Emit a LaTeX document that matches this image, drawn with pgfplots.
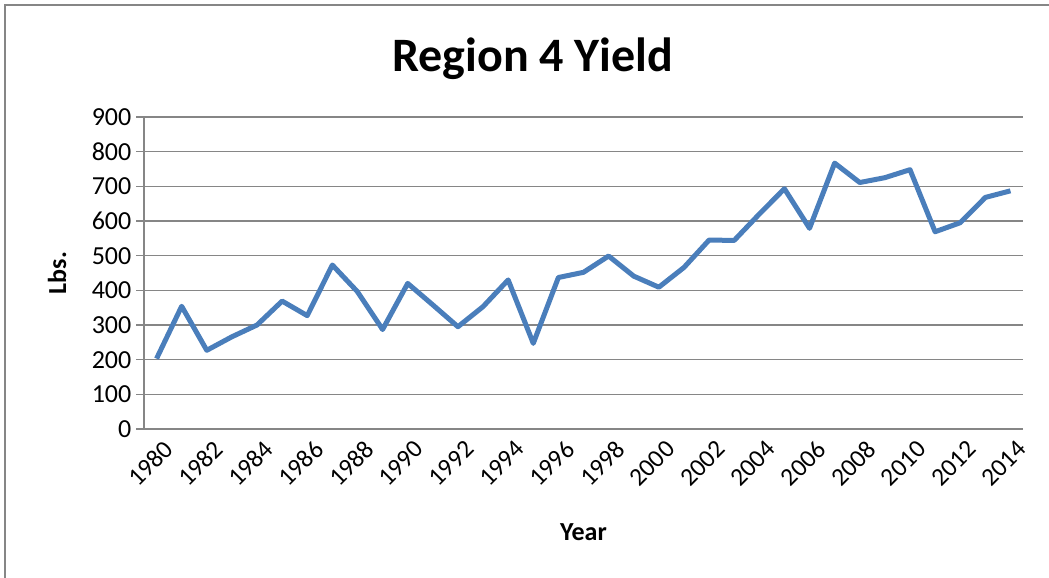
\documentclass[border=0pt]{standalone}
\usepackage{pgfplots}
\pgfplotsset{compat=1.18}
\usepackage{fontspec}
\setmainfont{Carlito}
\definecolor{linecol}{RGB}{74,126,187}
\definecolor{gridcol}{RGB}{134,134,134}
\begin{document}
\begin{tikzpicture}[x=1pt,y=1pt]
\useasboundingbox (0,0) rectangle (786.75,433.5);
\draw[gridcol, line width=1.1pt] (3.75,-5) -- (3.75,429.75) -- (800,429.75);
\begin{axis}[
  at={(108pt,111.75pt)}, anchor=south west,
  scale only axis, width=659.25pt, height=234pt,
  xmin=1979.5, xmax=2014.5, ymin=0, ymax=900,
  xtick={1980,1982,...,2014},
  ytick={0,100,...,900},
  axis x line=bottom, axis y line=left,
  axis line style={-, gridcol, line width=1.1pt},
  ymajorgrids, grid style={gridcol, line width=1.1pt},
  x tick style={draw=none},
  y tick style={gridcol, line width=1.1pt},
  tick align=outside, major tick length=6pt,
  x tick label style={rotate=45, anchor=north east, inner sep=1pt, xshift=3pt, yshift=-3pt, font=\fontsize{19}{20}\selectfont},
  y tick label style={font=\fontsize{19.5}{20}\selectfont},
  /pgf/number format/assume math mode=true,
  /pgf/number format/1000 sep={},
  xlabel={\textbf{Year}}, ylabel={\textbf{Lbs.}},
  label style={font=\fontsize{19.5}{20}\selectfont\bfseries},
  xlabel style={at={(axis description cs:0.5,0)}, anchor=center, yshift=-77pt},
  ylabel style={at={(axis description cs:-0.099,0.5)}, anchor=center, rotate=0},
  title={\textbf{Region 4 Yield}},
  title style={font=\fontsize{36}{37}\selectfont\bfseries, at={(axis description cs:0.442,1)}, anchor=center, yshift=38pt},
  clip=false,
]
\addplot[linecol, line width=3.75pt, line join=round] coordinates {
(1980,203) (1981,354) (1982,227) (1983,266) (1984,300) (1985,369) (1986,327)
(1987,473) (1988,396) (1989,287) (1990,420) (1991,358) (1992,295) (1993,353)
(1994,430) (1995,247) (1996,437) (1997,452) (1998,499) (1999,441) (2000,409)
(2001,466) (2002,545) (2003,544) (2004,620) (2005,693) (2006,579) (2007,767)
(2008,711) (2009,725) (2010,748) (2011,569) (2012,595) (2013,668) (2014,687)
};
\end{axis}
\end{tikzpicture}
\end{document}
